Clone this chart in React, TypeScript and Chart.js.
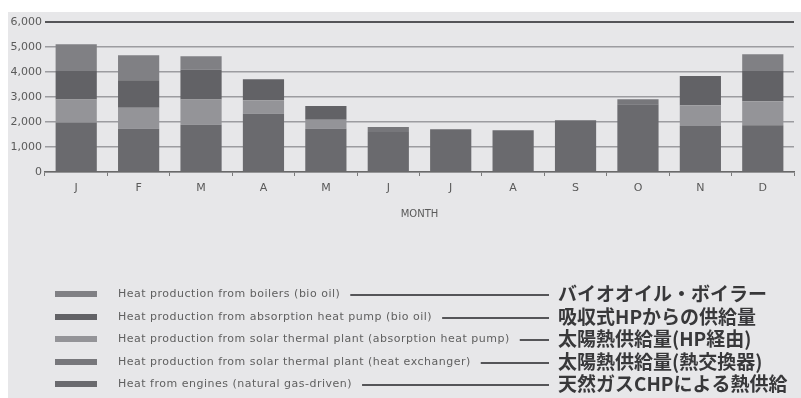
import React, { useEffect, useRef } from "react";
import { Chart, registerables } from "chart.js";

Chart.register(...registerables);

// ---- Data ----
const months = ["J", "F", "M", "A", "M", "J", "J", "A", "S", "O", "N", "D"];
const engines = [1980, 1735, 1895, 2335, 1735, 1600, 1710, 1670, 2070, 2710, 1840, 1870];
const solarHeatExchanger = [0, 0, 0, 0, 0, 200, 0, 0, 0, 200, 0, 0];
const solarAbsorptionHP = [920, 840, 1005, 535, 360, 0, 0, 0, 0, 0, 830, 960];
const absorptionHP = [1140, 1095, 1200, 840, 545, 0, 0, 0, 0, 0, 1170, 1210];
const boilers = [1070, 1000, 530, 0, 0, 0, 0, 0, 0, 0, 0, 670];

const yMax = 6000;
const yStep = 1000;
const xTitle = "MONTH";

const seriesNames = [
  "Heat from engines (natural gas-driven)",
  "Heat production from solar thermal plant (heat exchanger)",
  "Heat production from solar thermal plant (absorption heat pump)",
  "Heat production from absorption heat pump (bio oil)",
  "Heat production from boilers (bio oil)",
];
const seriesNamesJa = [
  "天然ガスCHPによる熱供給",
  "太陽熱供給量(熱交換器)",
  "太陽熱供給量(HP経由)",
  "吸収式HPからの供給量",
  "バイオオイル・ボイラー",
];
const seriesColors = ["#6a6a6e", "#77777b", "#949498", "#626266", "#808084"];
const seriesValues = [engines, solarHeatExchanger, solarAbsorptionHP, absorptionHP, boilers];

const FONT = "'DejaVu Sans', sans-serif";

const backgroundPlugin = {
  id: "paperBackground",
  beforeDraw(chart: any) {
    const ctx = chart.ctx;
    ctx.save();
    ctx.fillStyle = "#e7e7e9";
    ctx.fillRect(8, 12, chart.width - 8, chart.height - 12);
    ctx.restore();
  },
};

const customLegendPlugin = {
  id: "customLegend",
  afterDraw(chart: any) {
    const ctx = chart.ctx;
    const datasets = chart.data.datasets;
    const rowsTop = 294;
    const rowGap = 22.5;
    const lineEnd = 549;
    const jaX = 558;
    ctx.save();
    // top to bottom = reverse stack order
    for (let i = 0; i < datasets.length; i++) {
      const ds = datasets[datasets.length - 1 - i];
      const ja = seriesNamesJa[datasets.length - 1 - i];
      const y = Math.round(rowsTop + i * rowGap);
      // swatch
      ctx.fillStyle = ds.backgroundColor;
      ctx.fillRect(55, y - 3, 42, 6);
      // english text
      ctx.font = `11px ${FONT}`;
      (ctx as any).letterSpacing = "0.5px";
      ctx.fillStyle = "#606060";
      ctx.textAlign = "left";
      ctx.textBaseline = "middle";
      ctx.fillText(ds.label, 118, y);
      const w = ctx.measureText(ds.label).width;
      (ctx as any).letterSpacing = "0px";
      // leader line
      ctx.strokeStyle = "#555558";
      ctx.lineWidth = 2;
      ctx.beginPath();
      ctx.moveTo(118 + w + 10, y + 1);
      ctx.lineTo(lineEnd, y + 1);
      ctx.stroke();
      // japanese text
      ctx.font = `bold 19px 'Noto Sans CJK JP', sans-serif`;
      ctx.fillStyle = "#38383a";
      ctx.fillText(ja, jaX, y);
    }
    ctx.restore();
  },
};

export default function App() {
  const canvasRef = useRef<HTMLCanvasElement | null>(null);

  useEffect(() => {
    if (!canvasRef.current) return;
    const chart = new Chart(canvasRef.current, {
      type: "bar",
      data: {
        labels: months,
        datasets: seriesValues.map((vals, i) => ({
          label: seriesNames[i],
          data: vals,
          backgroundColor: seriesColors[i],
          borderWidth: 0,
          barPercentage: 0.66,
          categoryPercentage: 1,
        })),
      },
      options: {
        animation: false,
        responsive: false,
        maintainAspectRatio: false,
        devicePixelRatio: 1,
        layout: { padding: { left: 0, right: 7, top: 22, bottom: 178 } },
        plugins: {
          legend: { display: false },
          tooltip: { enabled: false },
          title: { display: false },
        },
        scales: {
          x: {
            stacked: true,
            afterFit(scale: any) {
              scale.height = 48;
            },
            grid: {
              drawOnChartArea: false,
              drawTicks: true,
              tickLength: 4,
              color: "#7a7a7a",
              lineWidth: 1,
            },
            border: { display: true, color: "#6a6a6a", width: 1.5 },
            ticks: {
              color: "#5a5a5a",
              font: { family: FONT, size: 11 },
              padding: 6,
              maxRotation: 0,
              autoSkip: false,
            },
            title: {
              display: true,
              text: xTitle,
              color: "#5a5a5a",
              font: { family: FONT, size: 10 },
              padding: { top: 0, bottom: 0 },
            },
          },
          y: {
            stacked: true,
            min: 0,
            max: yMax,
            afterFit(scale: any) {
              scale.width = 45;
            },
            grid: {
              drawTicks: false,
              color: (c: any) => (c.tick && c.tick.value === yMax ? "#555558" : "#9c9ca0"),
              lineWidth: (c: any) => (c.tick && c.tick.value === yMax ? 2 : 1.5),
            },
            border: { display: false },
            ticks: {
              stepSize: yStep,
              color: "#5a5a5a",
              font: { family: FONT, size: 11 },
              padding: 3,
              callback: (v: any) => Number(v).toLocaleString("en-US"),
            },
          },
        },
      },
      plugins: [backgroundPlugin, customLegendPlugin],
    });
    return () => chart.destroy();
  }, []);

  return (
    <div style={{ position: "absolute", left: 0, top: 0, width: 801, height: 398, background: "#ffffff" }}>
      <canvas ref={canvasRef} width={801} height={398} style={{ display: "block", width: 801, height: 398 }} />
    </div>
  );
}
